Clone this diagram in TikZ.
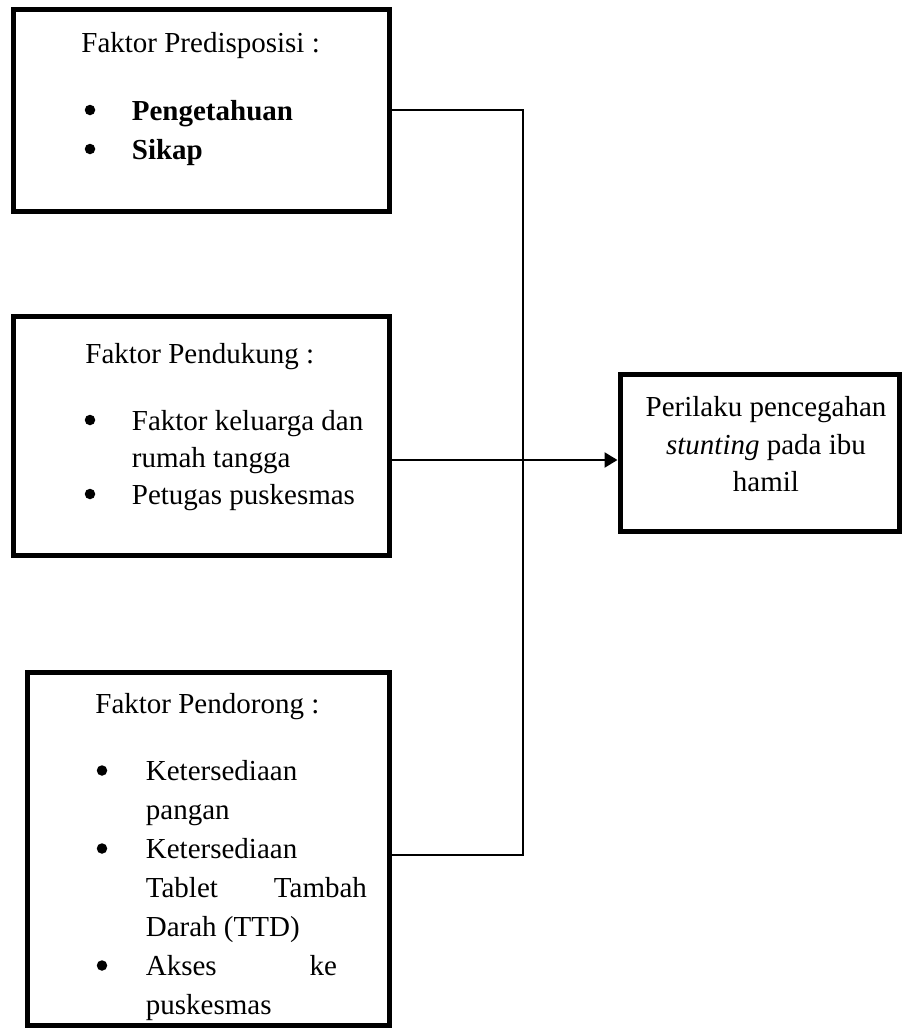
\documentclass[tikz,border=0pt]{standalone}
\usepackage{fontspec}
\setmainfont{Liberation Serif}
\usetikzlibrary{arrows.meta}

\begin{document}
\begin{tikzpicture}[x=0.5pt, y=-0.5pt,
  box/.style={draw, line width=2.5pt, inner sep=0pt},
  txt/.style={anchor=base west, inner sep=0pt, font=\fontsize{14.5}{17}\selectfont},
  ctxt/.style={anchor=base, inner sep=0pt, font=\fontsize{14.5}{17}\selectfont},
  dot/.style={circle, fill=black, inner sep=0pt, minimum width=5.25pt},
  link/.style={line width=1.2pt}]
\useasboundingbox (0,0) rectangle (903,1028);

% kotak
\node[box, minimum width=187.75pt, minimum height=101pt](pred) at (201.25,110.5) {};
\node[box, minimum width=187.75pt, minimum height=119.5pt](duk) at (201.25,435.5) {};
\node[box, minimum width=181pt, minimum height=176.5pt](pend) at (208.5,848.5) {};
\node[box, minimum width=139.5pt, minimum height=78.25pt](hasil) at (759.5,452.75) {};

% faktor predisposisi
\node[txt](pred title) at (81,52) {Faktor Predisposisi :};
\node[dot](pred d1) at (90,110) {};
\node[txt](pred l1) at (131.5,120) {\textbf{Pengetahuan}};
\node[dot](pred d2) at (90,149) {};
\node[txt](pred l2) at (131.5,159) {\textbf{Sikap}};

% faktor pendukung
\node[txt](duk title) at (85,363) {Faktor Pendukung :};
\node[dot](duk d1) at (90,420) {};
\node[txt](duk l1) at (131.5,430) {Faktor keluarga dan};
\node[txt](duk l2) at (131.5,467) {rumah tangga};
\node[dot](duk d2) at (90,494) {};
\node[txt](duk l3) at (131.5,504) {Petugas puskesmas};

% faktor pendorong
\node[txt](pend title) at (95,713) {Faktor Pendorong :};
\node[dot](pend d1) at (102,770.5) {};
\node[txt](pend l1) at (145.5,780.5) {Ketersediaan};
\node[txt](pend l2) at (145.5,819.5) {pangan};
\node[dot](pend d2) at (102,848.5) {};
\node[txt](pend l3) at (145.5,858.5) {Ketersediaan};
\node[txt](pend l4) at (145.5,897.5) {\hbox to 110.5pt{Tablet\hfill Tambah}};
\node[txt](pend l5) at (145.5,936.5) {Darah (TTD)};
\node[dot](pend d3) at (102,965.5) {};
\node[txt](pend l6) at (145.5,975.5) {\hbox to 95.5pt{Akses\hfill ke}};
\node[txt](pend l7) at (145.5,1014.5) {puskesmas};

% perilaku
\node[ctxt](hasil l1) at (766,416.5) {Perilaku pencegahan};
\node[ctxt](hasil l2) at (766,454) {\textit{stunting} pada ibu};
\node[ctxt](hasil l3) at (766,491.5) {hamil};

% garis
\coordinate (j1) at (523,110);
\coordinate (j2) at (523,460);
\coordinate (j3) at (523,855);
\draw[link] (pred.east |- j1) -- (j1) -- (j3) -- (pend.east |- j3);
\draw[link, -{Triangle[length=6.5pt, width=7.5pt]}] (duk.east |- j2) -- (j2 -| hasil.west);

\end{tikzpicture}
\end{document}
